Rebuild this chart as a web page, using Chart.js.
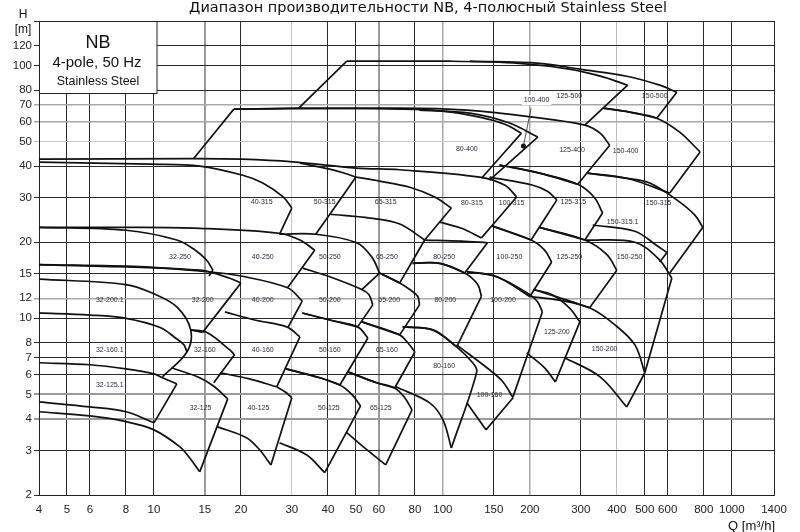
<!DOCTYPE html>
<html>
<head>
<meta charset="utf-8">
<script src="https://cdn.jsdelivr.net/npm/chart.js@4.4.1/dist/chart.umd.min.js"></script>
<style>
  html, body { margin: 0; padding: 0; background: #fff; }
  #wrap { width: 800px; height: 532px; }
</style>
</head>
<body>
<div id="wrap"><canvas id="chart" width="800" height="532"></canvas></div>
<script>
// Axis ticks
const xTicks = [4, 5, 6, 8, 10, 15, 20, 30, 40, 50, 60, 80, 100, 150, 200, 300, 400, 500, 600, 800, 1000, 1400];
const yTicks = [2, 3, 4, 5, 6, 7, 8, 10, 12, 15, 20, 30, 40, 50, 60, 70, 80, 100, 120, 150];

// Pump range outlines, points as [Q m3/h, H m]
const p125_500 = [[31.7,67.8],[46.5,104],[105.5,104],[184,102],[274,96.7],[363,89.8],[436,83.6],[310,58.1]];
const p150_500 = [[124,104],[216,102],[298,96.7],[433,90.7],[563,83.6],[645,78.4],[550,61.9],[443,65.4],[358,67.8]];
const p80_400 = [[13.7,42.8],[18.9,67.2],[31.7,67.8],[70.9,67.2],[100,66],[134,62.5],[164,58.6],[187,54],[136,35.8]];
const p100_400 = [[83,66.6],[124,64.8],[170,59.2],[213,52.1],[145,35.2]];
const p125_400 = [[18.9,67.2],[70.9,67.8],[121,66.6],[205,62.5],[310,58.1],[350,54],[378,48.4],[293,33.9],[216,37.5],[157,40.4]];
const p150_400 = [[358,67.8],[443,65.4],[550,61.9],[660,54.5],[777,45.5],[610,31.3],[433,35.8],[315,37.5]];
const p40_315 = [[4,41.5],[9.7,40.7],[14.4,40],[20.3,36.8],[23.8,34.3],[28,30.2],[30,27.3],[27.2,21.5]];
const p50_315 = [[32,41.1],[40.6,38.9],[45.7,37.5],[50,36.2],[36.3,21.5]];
const p65_315 = [[50,36.2],[60.4,34.9],[76.8,33],[93.7,30.2],[107,27.3],[86.5,20.4],[70.9,23.6],[56,24.9],[40.6,25.8]];
const p80_315 = [[4,42.6],[13.9,42.8],[20.1,42.6],[30.2,41.6],[50.1,39.3],[70.9,38.7],[134,36.2],[164,33.6],[180,30.2],[136,20.8],[116,22.7],[97.5,24]];
const p100_315 = [[145,36.2],[205,33.6],[230,31.8],[248,29.4],[202,20.4],[148,23.2]];
const p125_315 = [[157,40.4],[216,37.5],[293,33.9],[335,30],[357,26.1],[310,20.4],[216,22.9]];
const p150_315 = [[315,37.5],[433,35.8],[520,34.3],[645,29.4],[745,25.6],[794,22.9],[610,15.1]];
const p150_315_1 = [[330,23.4],[462,22.1],[550,19.4],[597,18.2],[563,16.7]];
const p32_250 = [[4,22.9],[8,22.3],[12,20.4],[13.9,18.6],[15.2,17],[16,15.5],[15.5,14.7]];
const p40_250 = [[4,22.9],[8,22.9],[14.4,22.7],[27.1,21.7],[32,20.4],[36,18.6],[29,13.2]];
const p50_250 = [[27.2,21.5],[36.4,21.5],[50.3,19.9],[56.7,17.5],[60.4,15.1],[52.4,13]];
const p65_250 = [[86.5,20.4],[70.9,13.8],[60.4,15.1]];
const p80_250 = [[86.5,20.4],[116,20.2],[142.6,19.9],[119,15.1],[97.5,16.5],[78.6,16.5]];
const p100_250 = [[148,23.2],[202,20.4],[225,18.6],[238,16.7],[200,12.2],[153.6,14.6],[121,15.3]];
const p125_250 = [[216,22.9],[310,20.4],[369,17.9],[400,15.5],[322,11],[269,11.8],[206,13]];
const p150_250 = [[310,20.4],[462,20],[563,17],[620,14.4],[500,6.09]];
const p32_200_1 = [[4,14.3],[8,13.6],[10,12.5],[12,11.1],[13.4,9],[13,7.36],[10.7,5.87]];
const p32_200 = [[4,16.3],[14.4,15.5],[18.3,14.4],[20,13.8],[14.75,8.8],[13.4,9]];
const p40_200 = [[4,16.3],[8.9,16],[15.2,15.3],[20,14.7],[29,13.2],[32.6,11.7],[29.1,9.2]];
const p50_200 = [[32.7,15.8],[40.6,14.6],[52.4,13],[55.5,12.4],[57.2,11.3],[50.7,9.25],[40.6,9.85],[32.6,10.5]];
const p65_200 = [[60.4,15.1],[70.9,13.8],[76.8,13],[81.9,12.2],[83,11.3],[70.9,8.6],[52.4,9.68]];
const p80_200 = [[78.6,16.5],[97.5,16.5],[119,15.1],[132,13.6],[136,12.2],[111.6,7.71],[92.2,9],[72.6,9.25]];
const p100_200 = [[121,15.3],[153.6,14.6],[200,12.4],[213,11.6],[221,10.6],[175,4.9]];
const p125_200 = [[206,13],[239,12.4],[274,11],[298,9.68],[245,5.6],[225,6.37],[195,7.3]];
const p150_200 = [[200,12.2],[253,11.8],[322,11],[395,9.4],[462,7.85],[500,6.09],[433,4.46],[350,5.87],[263,7]];
const p32_160_1 = [[4,10.5],[6,10.3],[8,10],[10.5,9.2],[11.8,8.4],[12.7,7.85],[13,7.36]];
const p32_160 = [[13.4,9],[15.2,8.8],[18.3,7.5],[19,7.17],[16.1,5.56]];
const p40_160 = [[17.6,10.6],[22.3,9.85],[28.8,9.25],[32,8.45],[26.6,5.36],[21.4,5.76],[16.9,6.09]];
const p50_160 = [[32.6,10.5],[40.6,9.85],[50.7,9.25],[55,8.36],[44,5.45],[37.5,5.82],[28.6,6.31]];
const p65_160 = [[52.4,9.68],[70.9,8.6],[75.6,8],[80,7.36],[68.1,5.3],[59,5.56],[46.8,6.14]];
const p80_160 = [[72.6,9.25],[92.2,9],[111.6,7.71],[126.8,6.67],[131,6.14],[107,3.07],[100,3.97],[90,4.63],[68.7,5.36]];
const p100_160 = [[111.6,7.85],[148,6.14],[161.5,5.6],[175,4.85],[141,3.62],[121,4.63]];
const p32_125_1 = [[4,6.67],[6,6.55],[8,6.31],[10,6.03],[10.7,5.82],[12,5.5],[10,3.86],[8,4.27],[6,4.46],[4,4.67]];
const p32_125 = [[11.5,6.37],[14.4,5.82],[16.2,5.36],[18,4.8],[14.4,2.47],[13.3,2.8],[12.3,3.1],[10,3.62],[8,3.9],[6,4.11],[4,4.27]];
const p40_125 = [[26.6,5.36],[28.4,5.12],[30,4.85],[25.4,2.63],[23.2,3.02],[20.9,3.37],[16.6,3.72]];
const p50_125 = [[28.6,6.31],[37.5,5.82],[44,5.45],[48.4,5],[51.9,4.5],[39,2.45],[33.8,2.88],[27.2,3.22]];
const p65_125 = [[46.8,6.14],[59,5.56],[68.1,5.3],[73.8,4.85],[78.2,4.34],[63.4,2.63],[53.6,3.07],[46.5,3.53]];

// 100-400 marker and its leader line
const marker100_400 = [[190,48]];
const leader100_400 = [[190,48],[202,67.8]];

// pump labels: [name, Q, H]
const pumpLabels = [
  ['125-500',274,75.6],['150-500',541,75.6],['100-400',211,73],
  ['80-400',121,46.7],['125-400',280,46.3],['150-400',429,45.9],
  ['40-315',23.6,28.8],['50-315',39,28.8],['65-315',63.4,28.8],['80-315',126,28.6],
  ['100-315',173,28.6],['125-315',283,28.8],['150-315',558,28.6],['150-315.1',419,24],
  ['32-250',12.3,17.5],['40-250',23.8,17.5],['50-250',40.6,17.5],['65-250',64,17.5],
  ['80-250',101,17.5],['100-250',170,17.5],['125-250',274,17.5],['150-250',443,17.5],
  ['32-200.1',7.03,11.8],['32-200',14.75,11.8],['40-200',23.8,11.8],['50-200',40.6,11.8],
  ['65-200',65.2,11.8],['80-200',102,11.8],['100-200',161.5,11.8],['125-200',248,8.83],['150-200',363,7.57],
  ['32-160.1',7.03,7.5],['32-160',15,7.5],['40-160',23.8,7.5],['50-160',40.6,7.5],
  ['65-160',64,7.5],['80-160',101,6.5],['100-160',145,4.95],
  ['32-125.1',7.03,5.45],['32-125',14.5,4.4],['40-125',23,4.4],['50-125',40.3,4.4],['65-125',61,4.4]
];

const outlines = [
  p125_500, p150_500, p80_400, p100_400, p125_400, p150_400,
  p40_315, p50_315, p65_315, p80_315, p100_315, p125_315, p150_315, p150_315_1,
  p32_250, p40_250, p50_250, p65_250, p80_250, p100_250, p125_250, p150_250,
  p32_200_1, p32_200, p40_200, p50_200, p65_200, p80_200, p100_200, p125_200, p150_200,
  p32_160_1, p32_160, p40_160, p50_160, p65_160, p80_160, p100_160,
  p32_125_1, p32_125, p40_125, p50_125, p65_125
];

const toXY = pts => pts.map(p => ({ x: p[0], y: p[1] }));

// split an outline where it turns sharply, so curves can be smoothed and corners stay sharp
function splitAtCorners(pts) {
  const parts = [];
  let cur = [pts[0]];
  for (let i = 1; i < pts.length; i++) {
    cur.push(pts[i]);
    if (i < pts.length - 1) {
      const a = Math.atan2(Math.log10(pts[i][1] / pts[i - 1][1]), 1.14 * Math.log10(pts[i][0] / pts[i - 1][0]));
      const b = Math.atan2(Math.log10(pts[i + 1][1] / pts[i][1]), 1.14 * Math.log10(pts[i + 1][0] / pts[i][0]));
      let d = Math.abs(a - b);
      if (d > Math.PI) d = 2 * Math.PI - d;
      if (d > 0.75) { parts.push(cur); cur = [pts[i]]; }
    }
  }
  parts.push(cur);
  return parts;
}

const datasets = [];
outlines.forEach(pts => {
  splitAtCorners(pts).forEach(part => {
    datasets.push({
      data: toXY(part),
      showLine: true,
      borderColor: '#111',
      borderWidth: 1.7,
      pointRadius: 0,
      tension: 0.35,
      fill: false
    });
  });
});
datasets.push({ data: toXY(leader100_400), showLine: true, borderColor: '#222', borderWidth: 0.8, pointRadius: 0 });
datasets.push({ data: toXY(marker100_400), showLine: false, pointRadius: 2.5, pointBackgroundColor: '#111', pointBorderWidth: 0 });

// grid styling
const xGridStyle = { 15: ['#9a9a9a', 2], 30: ['#c4c4c4', 1], 60: ['#9a9a9a', 2], 100: ['#a8a8a8', 1.5], 200: ['#a8a8a8', 1.5], 400: ['#bdbdbd', 1] };
const yGridStyle = { 4: ['#9a9a9a', 2], 5: ['#9a9a9a', 2], 12: ['#a8a8a8', 1.5], 50: ['#c8c8c8', 1], 60: ['#a8a8a8', 1.5], 70: ['#a8a8a8', 1.5] };
const gridColor = (map) => (ctx) => (ctx.tick && map[ctx.tick.value]) ? map[ctx.tick.value][0] : '#2a2a2a';
const gridWidth = (map) => (ctx) => (ctx.tick && map[ctx.tick.value]) ? map[ctx.tick.value][1] : 1;

const decorPlugin = {
  id: 'decor',
  afterDatasetsDraw(chart) {
    const { ctx, scales: { x, y } } = chart;
    ctx.save();
    ctx.font = '7px "Liberation Sans", Arial, sans-serif';
    ctx.textAlign = 'center';
    ctx.textBaseline = 'middle';
    pumpLabels.forEach(([name, q, h]) => {
      const px = x.getPixelForValue(q), py = y.getPixelForValue(h);
      if (name === '100-400') {
        const w = ctx.measureText(name).width;
        ctx.fillStyle = '#fff';
        ctx.fillRect(px - w / 2 - 2, py - 5, w + 4, 10);
      }
      ctx.fillStyle = '#2b2b3a';
      ctx.fillText(name, px, py);
    });
    ctx.restore();
  },
  afterDraw(chart) {
    const { ctx, chartArea: a } = chart;
    ctx.save();
    // info box
    ctx.fillStyle = '#fff';
    ctx.fillRect(a.left, a.top, 118, 72);
    ctx.strokeStyle = '#222';
    ctx.lineWidth = 1;
    ctx.strokeRect(a.left + 0.5, a.top + 0.5, 117.5, 72);
    ctx.fillStyle = '#111';
    ctx.textAlign = 'center';
    ctx.textBaseline = 'alphabetic';
    ctx.font = '18px "Liberation Sans", Arial, sans-serif';
    ctx.fillText('NB', a.left + 59, a.top + 27);
    ctx.font = '15px "Liberation Sans", Arial, sans-serif';
    ctx.fillText('4-pole, 50 Hz', a.left + 58, a.top + 46);
    ctx.font = '12.5px "Liberation Sans", Arial, sans-serif';
    ctx.fillText('Stainless Steel', a.left + 59, a.top + 64);
    // title
    ctx.font = '14.5px "DejaVu Sans", sans-serif';
    ctx.fillText('Диапазон производительности NB, 4-полюсный Stainless Steel', 428, 12);
    // axis titles
    ctx.font = '12px "Liberation Sans", Arial, sans-serif';
    ctx.fillText('H', 23, 18);
    ctx.fillText('[m]', 23, 33);
    ctx.textAlign = 'right';
    ctx.font = '13px "Liberation Sans", Arial, sans-serif';
    ctx.fillText('Q [m³/h]', a.right + 1, 530);
    ctx.restore();
  }
};

new Chart(document.getElementById('chart'), {
  type: 'scatter',
  data: { datasets },
  options: {
    responsive: false,
    animation: false,
    devicePixelRatio: 1,
    layout: { padding: { top: 21, right: 26, left: 0, bottom: 0 } },
    plugins: { legend: { display: false }, tooltip: { enabled: false }, title: { display: false } },
    scales: {
      x: {
        type: 'logarithmic',
        min: 4, max: 1400,
        afterBuildTicks: s => { s.ticks = xTicks.map(v => ({ value: v })); },
        afterFit: s => { s.height = 37; },
        ticks: {
          autoSkip: false, maxRotation: 0, padding: 8,
          color: '#222', font: { family: '"Liberation Sans", Arial, sans-serif', size: 11.5 },
          callback: v => String(v)
        },
        grid: { drawTicks: false, color: gridColor(xGridStyle), lineWidth: gridWidth(xGridStyle) },
        border: { color: '#222', width: 1 }
      },
      y: {
        type: 'logarithmic',
        min: 2, max: 150,
        afterBuildTicks: s => { s.ticks = yTicks.map(v => ({ value: v })); },
        afterFit: s => { s.width = 39; },
        ticks: {
          autoSkip: false, padding: 2,
          color: '#222', font: { family: '"Liberation Sans", Arial, sans-serif', size: 11.5 },
          callback: v => (v === 150 ? '' : String(v))
        },
        grid: { tickLength: 5, color: gridColor(yGridStyle), lineWidth: gridWidth(yGridStyle) },
        border: { color: '#222', width: 1 }
      }
    }
  },
  plugins: [decorPlugin]
});
</script>
</body>
</html>
